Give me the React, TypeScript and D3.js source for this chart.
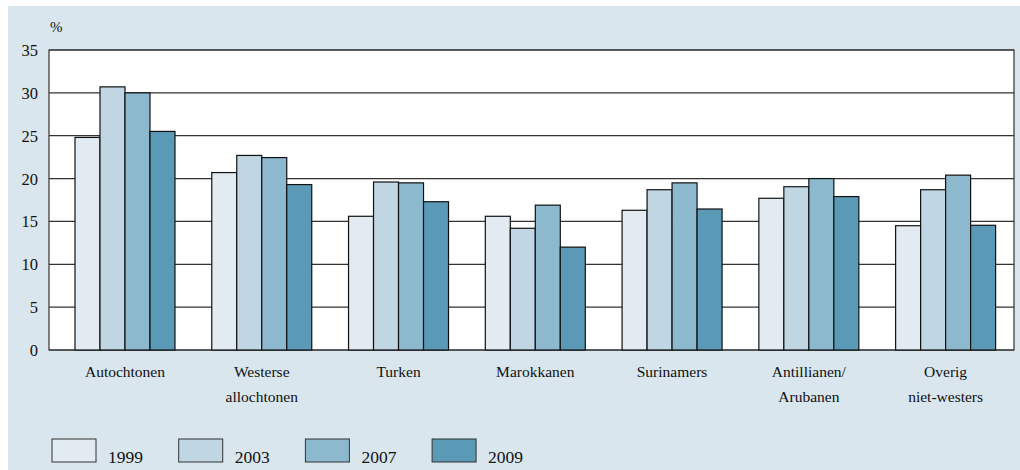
import React from "react";
import * as d3 from "d3";

const categories: string[][] = [
  ["Autochtonen"],
  ["Westerse", "allochtonen"],
  ["Turken"],
  ["Marokkanen"],
  ["Surinamers"],
  ["Antillianen/", "Arubanen"],
  ["Overig", "niet-westers"],
];
const years = ["1999", "2003", "2007", "2009"];
const v1999 = [24.8, 20.7, 15.6, 15.6, 16.3, 17.7, 14.5];
const v2003 = [30.7, 22.7, 19.6, 14.2, 18.7, 19.05, 18.7];
const v2007 = [30.0, 22.45, 19.5, 16.9, 19.5, 20.0, 20.4];
const v2009 = [25.5, 19.3, 17.3, 12.0, 16.45, 17.9, 14.55];
const yTicks = [0, 5, 10, 15, 20, 25, 30, 35];
const colors = ["#e1ebf1", "#c0d7e3", "#8db9cf", "#5a9ab7"];

const series = [v1999, v2003, v2007, v2009];
const FONT = "'Palatino Linotype', Palatino, 'Book Antiqua', 'Liberation Serif', serif";

export default function App() {
  const W = 1020, H = 470;
  const plot = { left: 49, right: 1014, top: 50, bottom: 350 };
  const y = d3.scaleLinear().domain([0, 35]).range([plot.bottom, plot.top]);
  const x0 = d3
    .scaleBand<number>()
    .domain(categories.map((_, i) => i))
    .range([56.6, plot.right])
    .paddingInner(0.269)
    .paddingOuter(0.1345);
  const x1 = d3
    .scaleBand<number>()
    .domain(years.map((_, i) => i))
    .range([0, x0.bandwidth()]);

  return (
    <svg
      width={W}
      height={H}
      style={{ position: "absolute", left: 0, top: 0, fontFamily: FONT }}
    >
      <rect x={8} y={6} width={W - 8} height={H - 6} fill="#d9e6ee" />
      <rect
        x={plot.left}
        y={plot.top}
        width={plot.right - plot.left}
        height={plot.bottom - plot.top}
        fill="#ffffff"
      />
      {yTicks.map((t) => (
        <g key={t}>
          <line
            x1={plot.left}
            x2={plot.right}
            y1={y(t)}
            y2={y(t)}
            stroke="#333"
            strokeWidth={1.2}
          />
          <text
            x={38}
            y={y(t) + 6}
            textAnchor="end"
            fontSize={16.5}
            fill="#111"
          >
            {t}
          </text>
        </g>
      ))}
      <rect
        x={plot.left}
        y={plot.top}
        width={plot.right - plot.left}
        height={plot.bottom - plot.top}
        fill="none"
        stroke="#333"
        strokeWidth={1.2}
      />
      <text x={50} y={32} fontSize={15} fill="#111">
        %
      </text>
      {categories.map((c, i) => (
        <g key={i} transform={`translate(${x0(i)},0)`}>
          {series.map((s, j) => (
            <rect
              key={j}
              x={x1(j)}
              y={y(s[i])}
              width={x1.bandwidth()}
              height={y(0) - y(s[i])}
              fill={colors[j]}
              stroke="#111"
              strokeWidth={1.2}
            />
          ))}
          {c.map((line, k) => (
            <text
              key={k}
              x={x0.bandwidth() / 2}
              y={377 + k * 25}
              textAnchor="middle"
              fontSize={15.5}
              fill="#111"
            >
              {line}
            </text>
          ))}
        </g>
      ))}
      {years.map((yr, j) => (
        <g key={yr} transform={`translate(${52 + j * 126.7},439)`}>
          <rect
            x={0}
            y={0}
            width={44}
            height={23}
            fill={colors[j]}
            stroke="#333"
            strokeWidth={1}
          />
          <text x={56} y={24} fontSize={17.5} fill="#111">
            {yr}
          </text>
        </g>
      ))}
    </svg>
  );
}
